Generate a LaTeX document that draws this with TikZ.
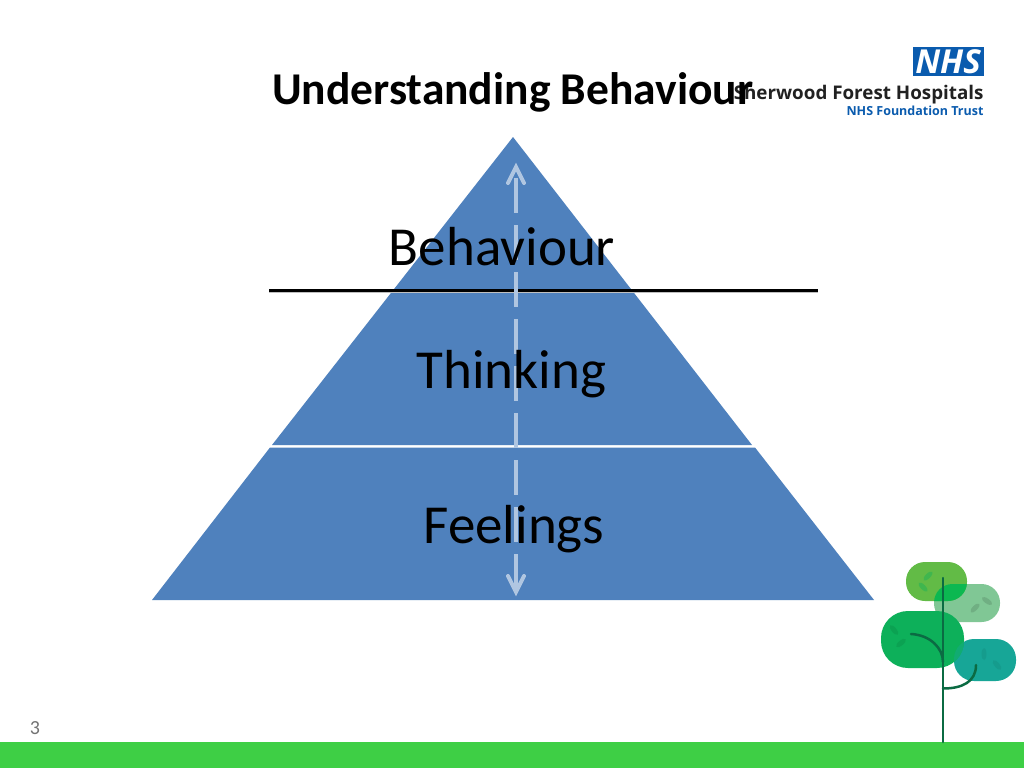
\documentclass[tikz,border=0pt]{standalone}
\usepackage{fontspec}
\setmainfont{Carlito}
\newfontfamily\logofont{Open Sans}
\usetikzlibrary{arrows.meta}
\definecolor{pyr}{HTML}{4F81BD}
\definecolor{nhsblue}{HTML}{0A5BAE}
\definecolor{barg}{HTML}{3ECF45}
\definecolor{trunk}{HTML}{0B6B43}
\definecolor{leafa}{HTML}{62BB46}
\definecolor{leafb}{HTML}{80C795}
\definecolor{leafc}{HTML}{0DB05A}
\definecolor{leafd}{HTML}{17A697}
\tikzset{
  x=1pt,y=-1pt,
  every node/.style={inner sep=0pt,outer sep=0pt},
  lbl/.style={anchor=base,text=black,font=\fontsize{55}{60}\selectfont},
  ttl/.style={anchor=base west,text=black,font=\fontsize{45.5}{50}\selectfont\bfseries},
  vein/.style={draw=trunk,line width=2.5pt,line cap=round},
}
\begin{document}
\begin{tikzpicture}
\useasboundingbox (0,0) rectangle (1024,768);
\fill[white] (0,0) rectangle (1024,768);
% bottom bar
\fill[barg] (0,742) rectangle (1024,768);
\node[anchor=base,text=black!55,font=\fontsize{20}{22}\selectfont] (pg) at (35,734) {3};
% pyramid
\fill[pyr] (513,137) -- (752,445) -- (272,445) -- cycle;
\fill[pyr] (270,447.5) -- (755,447.5) -- (874,600) -- (152,600) -- cycle;
% divider
\coordinate (la) at (269,290); \coordinate (lb) at (818,290);
\draw[black!25,line width=1.5pt] (269,292.5) -- (818,292.5);
\draw[black,line width=3pt] (la) -- (lb);
% dashed double arrow
\coordinate (up) at (516,167); \coordinate (dn) at (516,592);
\begin{scope}[line width=4pt]
\draw[white!55!pyr,dash pattern=on 35pt off 12pt] (516,178) -- (516,590);
\draw[white!55!pyr,line cap=round,line join=miter] (508,183) -- (up) -- (524,183);
\draw[white!55!pyr,line cap=round,line join=miter] (508,576) -- (dn) -- (524,576);
\end{scope}
% labels
\node[lbl] (beh) at (502,265) {Behaviour};
\node[lbl] (thi) at (511.5,388) {Thinking};
\node[lbl] (fee) at (514,543) {Feelings};
% logo
\fill[nhsblue] (912.5,47.5) rectangle (984,76);
\node[anchor=base,text=white,font=\logofont\fontsize{33}{34}\selectfont\bfseries\itshape] (nhs) at (948,74) {NHS};
\node[anchor=base east,text=black!87,font=\logofont\fontsize{18.8}{22}\selectfont\bfseries] (sfh) at (983.5,99) {Sherwood Forest Hospitals};
\node[anchor=base east,text=nhsblue,font=\logofont\fontsize{12.5}{16}\selectfont\bfseries] (fdn) at (983.5,115) {NHS Foundation Trust};
% title
\node[ttl] (title) at (272,104) {Understanding Behaviour};
% tree
\fill[leafb,rounded corners=18.5pt] (934,584) rectangle (1000,622);
\fill[leafa,rounded corners=19pt] (906,562) rectangle (967,601);
\begin{scope}
\clip[rounded corners=18.5pt] (934,584) rectangle (1000,622);
\fill[leafc!90!green,rounded corners=19pt] (906,562) rectangle (967,601);
\end{scope}
\fill[leafd,rounded corners=20pt] (954,639) rectangle (1016,681);
\fill[leafc,rounded corners=27pt] (881,611) rectangle (964,668);
\begin{scope}
\clip[rounded corners=20pt] (954,639) rectangle (1016,681);
\fill[leafc!60!leafd,rounded corners=27pt] (881,611) rectangle (964,668);
\end{scope}
\foreach \px/\py/\ang/\col in {928/576/45/leafc,923/587/-45/leafc,975/608/45/leafb!70!black,987/601/-35/leafb!70!black,894/630/-50/leafc!80!black,901/643/40/leafc!80!black,997/665/-50/leafd!85!black,984/654/90/leafd!85!black}
  \fill[\col,opacity=.4,rotate around={\ang:(\px,\py)}] (\px,\py) ellipse (6 and 2.5);
\draw[vein] (943,578) -- (943,742);
\draw[vein] (911,634) .. controls (930,635) and (943,648) .. (943,662);
\draw[vein] (943,688.5) .. controls (962,688.5) and (976,682) .. (976,665);
\end{tikzpicture}
\end{document}
